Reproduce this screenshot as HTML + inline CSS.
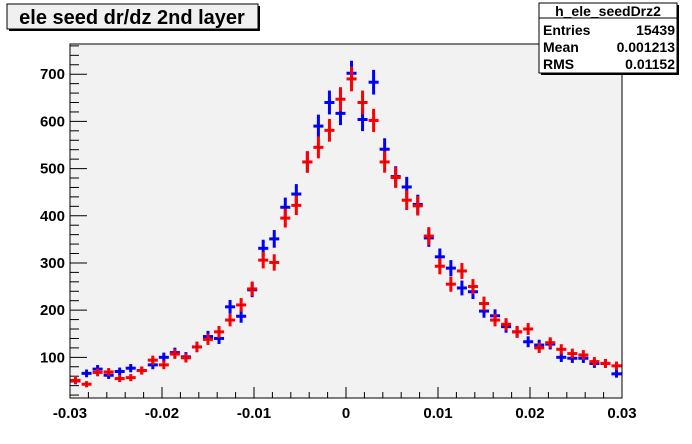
<!DOCTYPE html>
<html><head><meta charset="utf-8"><style>
body{margin:0;background:#fff;}
svg{display:block;font-family:"Liberation Sans",Arial,sans-serif;font-weight:bold;}
</style></head><body>
<svg width="692" height="444" viewBox="0 0 692 444">
<rect x="0" y="0" width="692" height="444" fill="#fff"/>
<g>
<rect x="9" y="6" width="251" height="25" fill="#000"/>
<rect x="7" y="4" width="251" height="25" fill="#f0f0f0" stroke="#000" stroke-width="1"/>
<text x="132" y="24" font-size="20" text-anchor="middle">ele seed dr/dz 2nd layer</text>
</g>
<rect x="70" y="44" width="552" height="354" fill="#f2f2f2" stroke="#000" stroke-width="1"/>
<g id="axes"></g>
<g id="marks"></g>
<g>
<rect x="541" y="5" width="138" height="70" fill="#000"/>
<rect x="539" y="3" width="138" height="70" fill="#fff" stroke="#000" stroke-width="1"/>
<line x1="539" y1="18" x2="677" y2="18" stroke="#000"/>
<text x="608" y="16" font-size="14" text-anchor="middle">h_ele_seedDrz2</text>
<text x="543" y="35" font-size="14">Entries</text>
<text x="675" y="35" font-size="14" text-anchor="end">15439</text>
<text x="543" y="52" font-size="14">Mean</text>
<text x="675" y="52" font-size="14" text-anchor="end">0.001213</text>
<text x="543" y="69" font-size="14">RMS</text>
<text x="675" y="69" font-size="14" text-anchor="end">0.01152</text>
</g>
</svg>
<script>
const blueValues=[50,66,75,62,70,77,72,84,100,110,101,122,144,140,207,187,243,331,351,418,446,514,590,640,617,702,604,683,541,483,461,424,353,313,289,247,239,198,188,165,154,133,126,128,100,98,98,87,87,65];
const redValues=[51,43,68,69,55,57,72,94,84,107,99,122,138,154,179,211,245,306,301,395,422,514,545,581,647,690,640,602,514,481,433,421,357,293,255,283,250,214,179,170,154,160,120,131,117,108,105,91,87,82];
const xTickLabels=["-0.03","-0.02","-0.01","0","0.01","0.02","0.03"];
const yTickLabels=["100","200","300","400","500","600","700"];
const xMin=-0.03,xMax=0.03,yMin=13.8,yMax=764;
const L=70,R=622,T=44,B=398;
const NS="http://www.w3.org/2000/svg";
function xs(v){return L+(v-xMin)/(xMax-xMin)*(R-L);}
function ys(v){return B-(v-yMin)/(yMax-yMin)*(B-T);}
function mk(tag,attrs,parent){const e=document.createElementNS(NS,tag);for(const k in attrs)e.setAttribute(k,attrs[k]);parent.appendChild(e);return e;}
const axes=document.getElementById('axes');
for(let i=0;i<=30;i++){const v=xMin+i*0.002;const x=xs(v);const major=i%5===0;
 const t=mk('line',{x1:x,y1:B,x2:x,y2:B-(major?11:6),stroke:'#000'},axes);
 
 }
xTickLabels.forEach((s,i)=>{const t=mk('text',{x:xs(parseFloat(s)),y:B+20,'font-size':15,'text-anchor':'middle'},axes);t.textContent=s;
 
 });
for(let v=20;v<=760;v+=20){const y=ys(v);const major=v%100===0;
 const t=mk('line',{x1:L,y1:y,x2:L+(major?17:9),y2:y,stroke:'#000'},axes);
 
 }
yTickLabels.forEach(s=>{const t=mk('text',{x:L-5,y:ys(parseFloat(s))+5,'font-size':15,'text-anchor':'end'},axes);t.textContent=s;
 
 });
const marks=document.getElementById('marks');
const bw=(xMax-xMin)/blueValues.length;
function drawSeries(vals,color,name){
 const g=mk('g',{},marks);
 
 
 vals.forEach((v,i)=>{
  const cx=xs(xMin+(i+0.5)*bw),x0=xs(xMin+i*bw),x1=xs(xMin+(i+1)*bw);
  const e=Math.sqrt(v);
  const p=mk('g',{},g);
  
  
  mk('line',{x1:x0+0.5,y1:ys(v),x2:x1-0.5,y2:ys(v),stroke:color,'stroke-width':3},p);
  mk('line',{x1:cx,y1:Math.max(T,ys(v+e)),x2:cx,y2:Math.min(B,ys(v-e)),stroke:color,'stroke-width':3},p);
  mk('rect',{x:cx-0.5,y:ys(v)-0.5,width:1,height:1,fill:'#000'},p);
 });
}
drawSeries(blueValues,'#0000ff','blue');
drawSeries(redValues,'#ff0000','red');
</script>
</body></html>
